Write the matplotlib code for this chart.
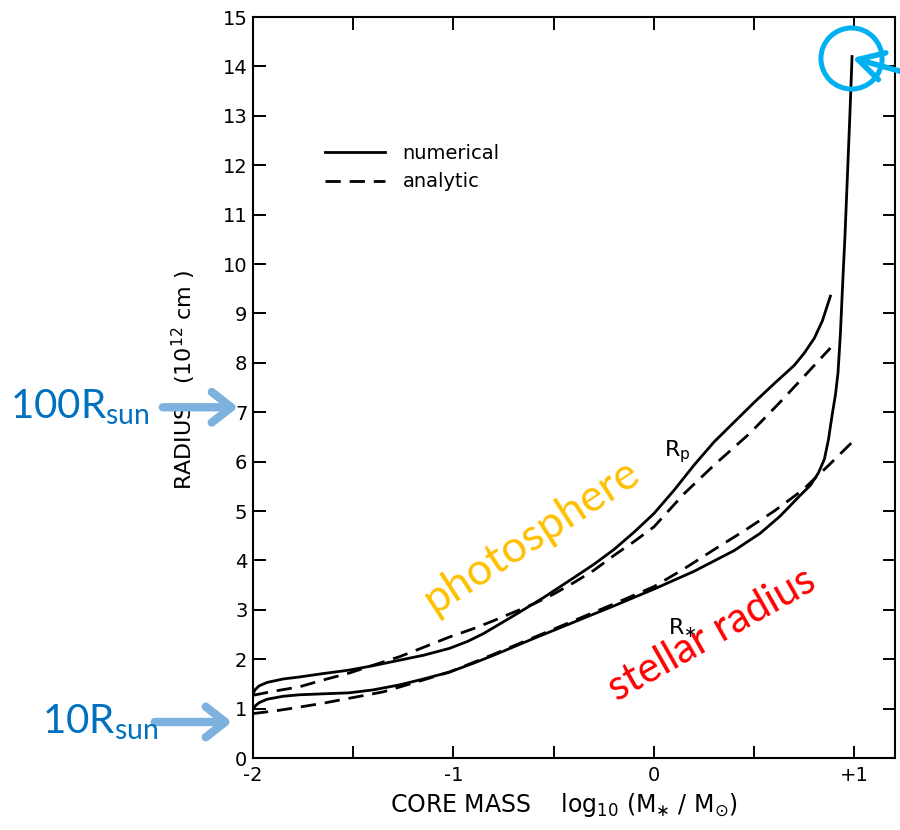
import matplotlib
matplotlib.use("Agg")
import matplotlib.pyplot as plt

# Curvas: log10(M*/Msun) contra radio (1e12 cm)
rp_num_x = [-2.0, -1.99, -1.97, -1.93, -1.85, -1.77, -1.65, -1.52, -1.4, -1.27, -1.15, -1.02,
            -0.93, -0.85, -0.7, -0.55, -0.4, -0.3, -0.2, -0.1, 0.0, 0.1, 0.2, 0.3, 0.4,
            0.5, 0.6, 0.7, 0.75, 0.8, 0.84, 0.88]
rp_num_y = [1.30, 1.38, 1.46, 1.53, 1.60, 1.64, 1.71, 1.78, 1.87, 1.98, 2.08, 2.22,
            2.36, 2.52, 2.88, 3.25, 3.65, 3.92, 4.22, 4.57, 4.95, 5.42, 5.93, 6.4, 6.8,
            7.2, 7.58, 7.95, 8.2, 8.5, 8.85, 9.35]

rp_ana_x = [-2.0, -1.9, -1.77, -1.65, -1.52, -1.4, -1.27, -1.15, -1.02, -0.9, -0.8, -0.7,
            -0.6, -0.5, -0.4, -0.3, -0.2, -0.1, 0.0, 0.15, 0.3, 0.48, 0.64, 0.8, 0.88]
rp_ana_y = [1.27, 1.35, 1.44, 1.58, 1.72, 1.88, 2.05, 2.24, 2.45, 2.62, 2.78, 2.95,
            3.12, 3.32, 3.55, 3.8, 4.1, 4.38, 4.68, 5.35, 5.93, 6.58, 7.25, 7.95, 8.3]

rs_num_x = [-2.0, -1.99, -1.97, -1.93, -1.85, -1.77, -1.65, -1.52, -1.4, -1.27, -1.15, -1.02,
            -0.9, -0.8, -0.6, -0.4, -0.2, 0.0, 0.2, 0.4, 0.53, 0.63, 0.73, 0.78,
            0.82, 0.85, 0.87, 0.89, 0.905, 0.918, 0.93, 0.94, 0.953, 0.965, 0.977, 0.988]
rs_num_y = [0.98, 1.05, 1.12, 1.19, 1.25, 1.28, 1.30, 1.32, 1.38, 1.48, 1.6, 1.74,
            1.92, 2.08, 2.42, 2.75, 3.08, 3.42, 3.78, 4.2, 4.55, 4.9, 5.32, 5.52,
            5.77, 6.05, 6.44, 6.98, 7.35, 7.8, 8.6, 9.5, 10.6, 11.8, 13.0, 14.2]

rs_ana_x = [-2.0, -1.88, -1.77, -1.65, -1.52, -1.35, -1.2, -1.02, -0.8, -0.6, -0.4, -0.2,
            0.0, 0.15, 0.3, 0.45, 0.6, 0.74, 0.87, 1.0]
rs_ana_y = [0.9, 0.96, 1.03, 1.11, 1.21, 1.34, 1.52, 1.74, 2.1, 2.44, 2.78, 3.12,
            3.47, 3.83, 4.22, 4.6, 5.0, 5.42, 5.92, 6.44]

x_ticks = [-2, -1, 0, 1]
x_ticklabels = ["-2", "-1", "0", "+1"]
x_minor = [-1.5, -0.5, 0.5]
y_ticks = list(range(0, 16))

fig = plt.figure(figsize=(9, 8.3), dpi=100)
ax = fig.add_axes([0.2811, 0.0867, 0.7133, 0.8928])

lw = 2.0
ax.plot(rp_num_x, rp_num_y, color="black", lw=lw, label="numerical")
ax.plot(rp_ana_x, rp_ana_y, color="black", lw=lw, ls=(0, (5.5, 3.2)), label="analytic")
ax.plot(rs_num_x, rs_num_y, color="black", lw=lw)
ax.plot(rs_ana_x, rs_ana_y, color="black", lw=lw, ls=(0, (5.5, 3.2)))

ax.set_xlim(-2, 1.202)
ax.set_ylim(0, 15)
ax.set_xticks(x_ticks)
ax.set_xticklabels(x_ticklabels)
ax.set_xticks(x_minor, minor=True)
ax.set_yticks(y_ticks)
ax.tick_params(which="both", direction="in", length=9, width=1.4,
               top=True, right=True, labelsize=14)
ax.tick_params(axis="x", pad=6)
ax.tick_params(axis="y", pad=4)
for s in ax.spines.values():
    s.set_linewidth(1.5)

ax.set_xlabel(r"CORE MASS    log$_{10}$ (M$_{\ast}$ / M$_{\odot}$)", fontsize=17)
ax.xaxis.set_label_coords(0.484, -0.045)
ax.set_ylabel(r"RADIUS   (10$^{12}$ cm )", fontsize=16)
ax.yaxis.set_label_coords(-0.086, 0.51)

ax.legend(loc="upper left", bbox_to_anchor=(0.112, 0.829), frameon=False, fontsize=14,
          handlelength=3.1, handletextpad=0.9, labelspacing=0.5,
          borderpad=0, borderaxespad=0)

ax.text(0.05, 6.1, r"R$_\mathregular{p}$", fontsize=16)
ax.text(0.07, 2.5, r"R$_{\ast}$", fontsize=16)

# Anotaciones añadidas encima de la figura original
ax.text(-0.61, 4.5, "photosphere", color="#FFC000", fontsize=32, family="Lato",
        rotation=33, ha="center", va="center", rotation_mode="anchor")
ax.text(0.29, 2.5, "stellar radius", color="#FF0000", fontsize=30, family="Lato",
        rotation=29.5, ha="center", va="center", rotation_mode="anchor")

fig.text(10 / 900, 1 - 407 / 830, r"100R$_\mathregular{sun}$", color="#0070C0",
         fontsize=29, family="Lato", va="center")
fig.text(42 / 900, 1 - 722 / 830, r"10R$_\mathregular{sun}$", color="#0070C0",
         fontsize=29, family="Lato", va="center")

arrow_blue = dict(arrowstyle="->,head_length=0.7,head_width=0.55", lw=6,
                  color="#7DB2DE", shrinkA=0, shrinkB=0, mutation_scale=20)
ax.annotate("", xy=(-2.075, 7.1), xytext=(-2.45, 7.1), arrowprops=arrow_blue,
            annotation_clip=False)
ax.annotate("", xy=(-2.105, 0.73), xytext=(-2.49, 0.73), arrowprops=arrow_blue,
            annotation_clip=False)

ax.plot([0.983], [14.17], marker="o", markersize=44, markerfacecolor="none",
        markeredgecolor="#00B0F0", markeredgewidth=3.6, clip_on=False)
ax.annotate("", xy=(0.99, 14.17), xytext=(1.32, 13.8),
            arrowprops=dict(arrowstyle="->,head_length=0.9,head_width=0.5", lw=4,
                            color="#00B0F0", shrinkA=0, shrinkB=0, mutation_scale=20),
            annotation_clip=False)

fig.savefig("out.png", dpi=100)
